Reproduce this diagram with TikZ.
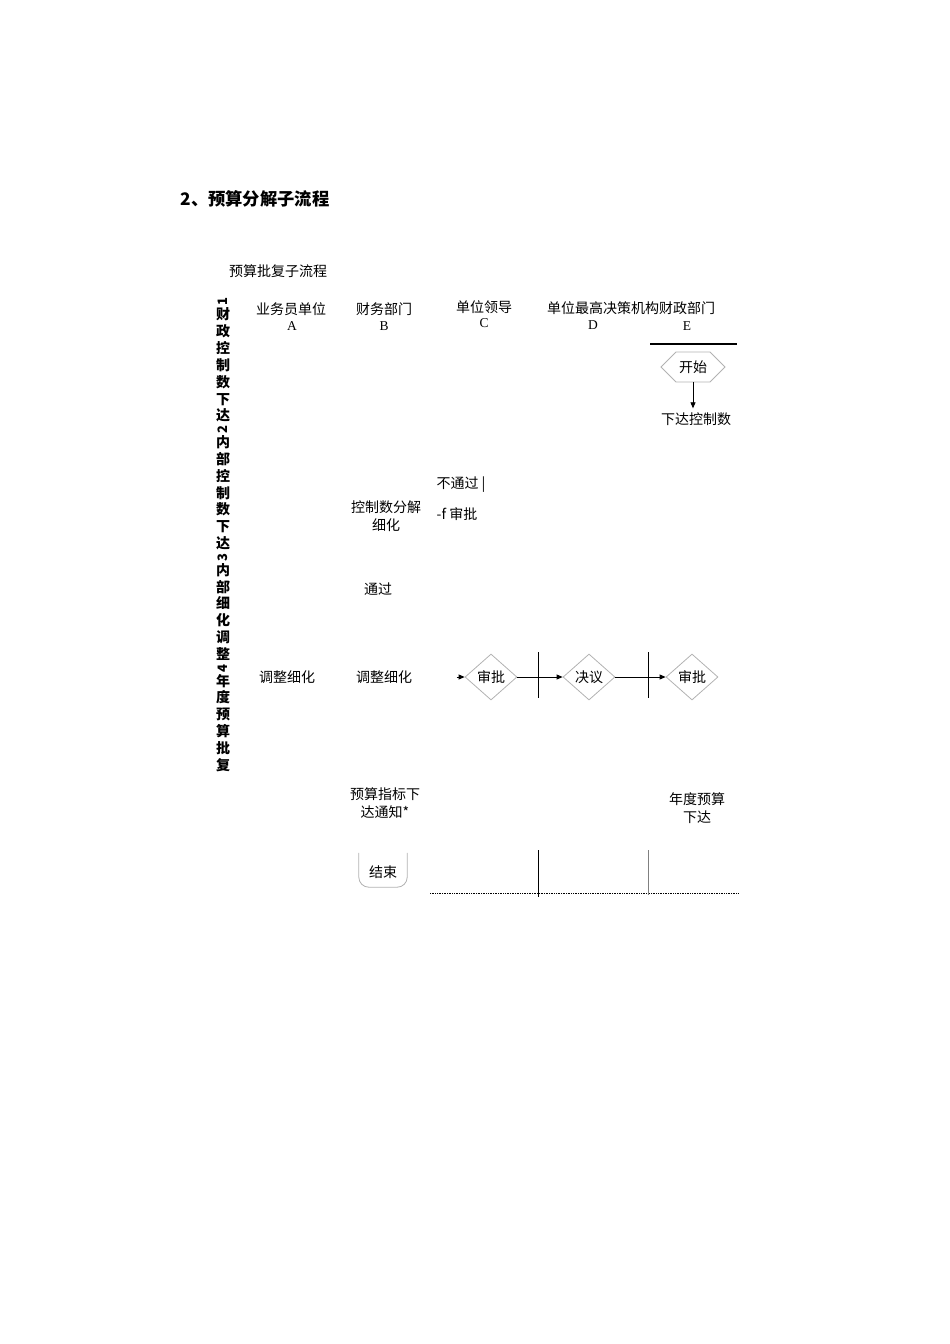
\documentclass[tikz,border=0pt]{standalone}
\usepackage{fontspec}
\usepackage{graphicx}
\setmainfont{Liberation Serif}
\newfontfamily\cjk{Noto Sans CJK SC}
\usetikzlibrary{positioning, arrows.meta, shapes.geometric, shapes.symbols}
\newcommand\vnum[1]{\rotatebox{90}{#1}}
\tikzset{
  txt/.style={font=\cjk\fontsize{14}{18.5}\selectfont, align=center, inner sep=2pt},
  lat/.style={font=\fontsize{13.5}{15}\selectfont, inner sep=1pt},
  vch/.style={font=\cjk\bfseries\fontsize{14}{16}\selectfont, inner sep=0pt, outer sep=0pt,
    text height=12pt, text depth=4.9pt},
  vdig/.style={font=\cjk\bfseries\fontsize{13}{16}\selectfont, inner sep=0pt, outer sep=0pt,
    text height=7.5pt, text depth=2pt},
  flow/.style={draw=gray!60, line width=0.8pt, font=\cjk\fontsize{14}{16}\selectfont},
  arr/.style={-{Triangle[length=6pt,width=5pt]}, line width=0.8pt},
  lane/.style={line width=1pt}
}
\begin{document}
\begin{tikzpicture}[x=1pt, y=-1pt]
\useasboundingbox (0,0) rectangle (950,1344);
\node[anchor=west, font=\cjk\bfseries\fontsize{17.3}{19}\selectfont] (title) at (177,199) {2、预算分解子流程};
\node[txt] (sub) at (278,271) {预算批复子流程};
\coordinate (v0) at (223,298);
\foreach \ch/\st [count=\i, remember=\i as \j (initially 0)] in
  {\vnum{1}/vdig,财/vch,政/vch,控/vch,制/vch,数/vch,下/vch,达/vch,
   \vnum{2}/vdig,内/vch,部/vch,控/vch,制/vch,数/vch,下/vch,达/vch,
   \vnum{3}/vdig,内/vch,部/vch,细/vch,化/vch,调/vch,整/vch,
   \vnum{4}/vdig,年/vch,度/vch,预/vch,算/vch,批/vch,复/vch}
  \node[\st, below=0pt of v\j] (v\i) {\ch};
\node[txt] (hA) at (291,309) {业务员单位};
\node[lat] (lA) at (292,326) {A};
\node[txt] (hB) at (384,309) {财务部门};
\node[lat] (lB) at (384,326) {B};
\node[txt] (hC) at (484,307) {单位领导};
\node[lat] (lC) at (484,323) {C};
\node[txt] (hDE) at (631,308) {单位最高决策机构财政部门};
\node[lat] (lD) at (593,325) {D};
\node[lat] (lE) at (687,326) {E};
\draw[line width=1.1pt] (650,344) coordinate (eL) -- (737,344) coordinate (eR);
\node[flow, signal, signal to=west and east, minimum width=64pt, minimum height=30pt, inner sep=1pt] (start) at (693,367) {开始};
\node[txt, inner sep=4pt] (xiada) at (696,419) {下达控制数};
\draw[arr] (start.south) -- (start.south |- xiada.north);
\node[txt] (nopass) at (461,485) {不通过 |};
\node[txt] (split) at (386,516) {控制数分解\\细化};
\node[txt] (app0) at (457,514) {-f 审批};
\node[txt] (pass) at (378,589) {通过};
\node[txt] (adjA) at (287,677) {调整细化};
\node[txt] (adjB) at (384,677) {调整细化};
\node[flow, diamond, minimum width=52pt, minimum height=46pt, inner sep=0pt] (d1) at (491,677) {审批};
\node[flow, diamond, minimum width=52pt, minimum height=46pt, inner sep=0pt] (d2) at (589,677) {决议};
\node[flow, diamond, minimum width=52pt, minimum height=46pt, inner sep=0pt] (d3) at (692,677) {审批};
\coordinate[left=8pt of d1.west] (in1);
\draw[arr] (in1) -- (d1.west);
\draw[arr] (d1.east) -- (d2.west);
\draw[arr] (d2.east) -- (d3.west);
\draw[lane] (538,652) -- (538,698);
\draw[lane] (648,652) -- (648,698);
\node[txt] (notice) at (385,803) {预算指标下\\达通知*};
\node[txt] (annual) at (697,808) {年度预算\\下达};
\node[font=\cjk\fontsize{14}{16}\selectfont, minimum width=48pt, minimum height=30pt, inner sep=0pt] (end) at (383,872) {结束};
\draw[draw=gray!60, line width=0.8pt, rounded corners=10pt] ([yshift=4pt]end.north west) -- (end.south west) -- (end.south east) -- ([yshift=4pt]end.north east);
\draw[line width=0.8pt, dash pattern=on 1pt off 0.7pt] (430,893) -- (738,893);
\draw[lane] (538,850) -- (538,897);
\draw[gray, line width=0.6pt] (648,850) -- (648,895);
\end{tikzpicture}
\end{document}
